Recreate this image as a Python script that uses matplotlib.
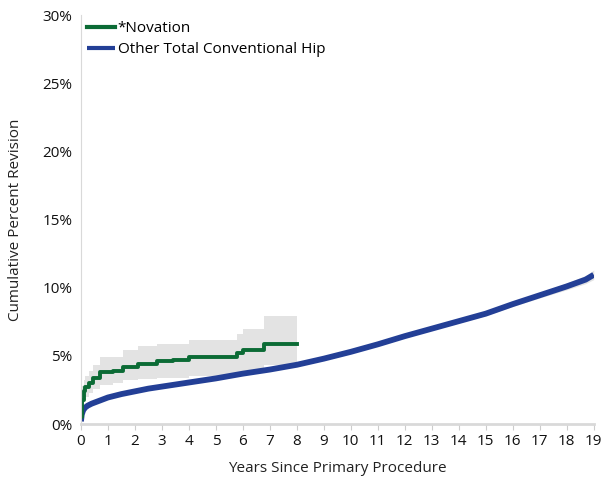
import numpy as np
import matplotlib
matplotlib.use("Agg")
import matplotlib.pyplot as plt
from matplotlib.ticker import FuncFormatter

plt.rcParams["font.family"] = ["Open Sans", "DejaVu Sans"]

# Novation (step curve) with 95% CI
nov_years = [0, 0.05, 0.1, 0.15, 0.3, 0.45, 0.7, 1.2, 1.55, 2.1, 2.8, 3.4, 4.0, 5.8, 6.0, 6.8, 8.0]
nov_cpr   = [0.5, 1.8, 2.4, 2.7, 3.0, 3.4, 3.8, 3.9, 4.2, 4.4, 4.6, 4.7, 4.9, 5.2, 5.4, 5.9, 5.9]
nov_upper = [1.5, 2.8, 3.2, 3.5, 3.9, 4.3, 4.9, 4.9, 5.4, 5.7, 5.9, 5.9, 6.2, 6.6, 7.0, 7.9, 7.9]
nov_lower = [0.1, 1.0, 1.6, 2.0, 2.3, 2.6, 2.9, 3.0, 3.2, 3.3, 3.4, 3.4, 3.5, 3.7, 3.9, 4.3, 4.3]

# Other Total Conventional Hip with 95% CI
oth_years = [0, 0.03, 0.08, 0.15, 0.25, 0.4, 0.6, 0.8, 1, 1.5, 2, 2.5, 3, 4, 5, 6, 7, 8, 9, 10,
             11, 12, 13, 14, 15, 16, 17, 18, 18.7, 19]
oth_cpr   = [0.2, 0.7, 1.0, 1.2, 1.35, 1.5, 1.65, 1.8, 1.95, 2.2, 2.4, 2.6, 2.75, 3.05, 3.35, 3.7,
             4.0, 4.35, 4.8, 5.3, 5.85, 6.45, 7.0, 7.55, 8.1, 8.8, 9.45, 10.1, 10.6, 10.95]
oth_band  = [0.05, 0.05, 0.05, 0.05, 0.05, 0.05, 0.05, 0.05, 0.05, 0.05, 0.05, 0.05, 0.05, 0.05,
             0.05, 0.05, 0.05, 0.05, 0.06, 0.07, 0.08, 0.09, 0.1, 0.12, 0.14, 0.17, 0.2, 0.25,
             0.3, 0.35]

GREEN = "#0b6b35"
BLUE = "#233f96"
GRAY = "#e3e3e3"

fig = plt.figure(figsize=(6.04, 4.88), dpi=100)
ax = fig.add_axes([0.134, 0.131, 0.849, 0.838])

oy = np.array(oth_years)
oc = np.array(oth_cpr)
ob = np.array(oth_band)
ax.fill_between(oy, oc - ob, oc + ob, color=GRAY, lw=0)
ax.fill_between(nov_years, nov_lower, nov_upper, step="post", color=GRAY, lw=0)

ax.plot(oy, oc, color=BLUE, lw=4.2, solid_capstyle="butt", label="Other Total Conventional Hip")
ax.step(nov_years, nov_cpr, where="post", color=GREEN, lw=2.8, label="*Novation")

ax.set_xlim(0, 19)
ax.set_ylim(0, 30)
ax.set_xticks(range(0, 20))
ax.set_yticks(range(0, 31, 5))
ax.yaxis.set_major_formatter(FuncFormatter(lambda v, p: f"{v:.0f}%"))
ax.tick_params(axis="y", length=0, labelsize=11, colors="#111111", pad=6)
ax.tick_params(axis="x", length=4, color="#cccccc", labelsize=11, colors="#111111")

for s in ["top", "right"]:
    ax.spines[s].set_visible(False)
ax.spines["left"].set_color("#d9d9d9")
ax.spines["bottom"].set_color("#d9d9d9")
ax.spines["bottom"].set_linewidth(2)

ax.set_xlabel("Years Since Primary Procedure", fontsize=11, color="#222222", labelpad=8)
ax.set_ylabel("Cumulative Percent Revision", fontsize=11, color="#222222", labelpad=14)

handles, labels = ax.get_legend_handles_labels()
leg = ax.legend(handles[::-1], labels[::-1], loc="upper left", frameon=False, fontsize=11,
                handlelength=1.8, handletextpad=0.2, borderaxespad=0.0, labelspacing=0.4)
for h in leg.get_lines():
    h.set_linewidth(3)

fig.savefig("out.png", dpi=100)
